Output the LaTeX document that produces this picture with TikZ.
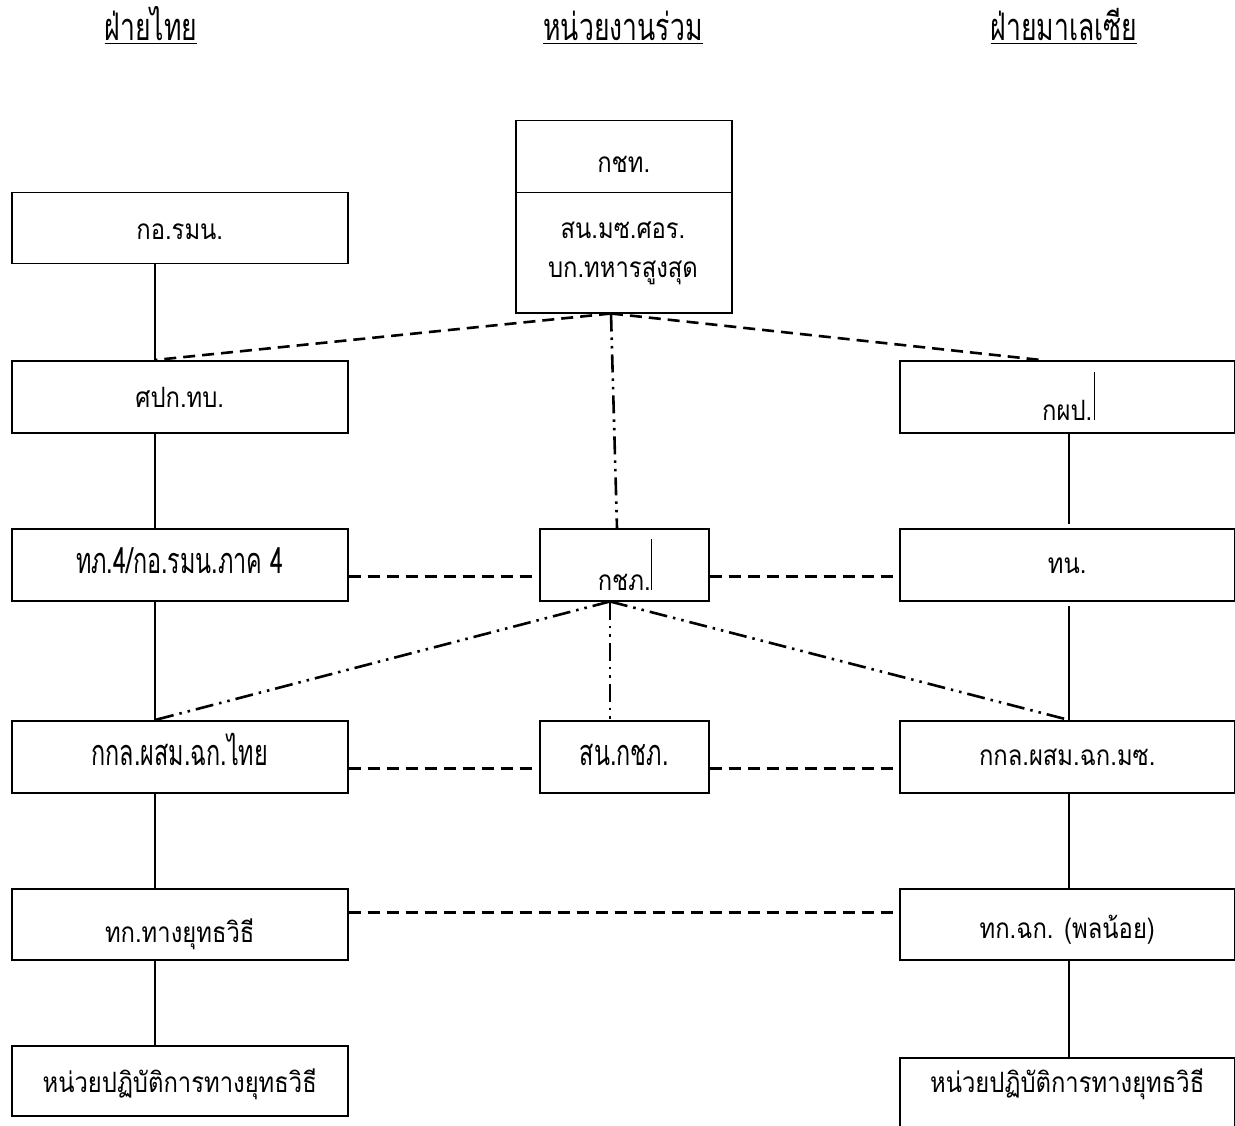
\documentclass[tikz,border=0pt]{standalone}
\usepackage{fontspec}
\newfontfamily\thaifont[Script=Thai,FakeStretch=0.85]{Loma}
\newfontfamily\thaicond[Script=Thai,FakeStretch=0.65]{Loma}
\newfontfamily\thaihdr[Script=Thai,FakeStretch=0.70]{Loma}
\usetikzlibrary{calc}
\newcommand\hdrul[1]{\setbox0\hbox{#1}\rlap{\rule[-3.5pt]{\wd0}{1.8pt}}\box0}
\begin{document}
\begin{tikzpicture}[x=1pt,y=-1pt,
  box/.style={draw, line width=1.5pt, inner sep=0pt, anchor=north west,
    font=\thaifont\fontsize{28}{34}\selectfont, text depth=0pt},
  wide/.style={box, minimum width=336pt, minimum height=72pt},
  narrow/.style={box, minimum width=169pt, minimum height=72pt},
  tb/.style={text height=#1pt, text depth=0pt},
  cond/.style={font=\thaicond\fontsize{36}{40}\selectfont},
  txt/.style={inner sep=0pt, anchor=base, font=\thaifont\fontsize{28}{34}\selectfont},
  hdr/.style={inner sep=0pt, anchor=base, font=\thaihdr\fontsize{38}{44}\selectfont},
  link/.style={line width=1.2pt},
  dsh/.style={line width=2.6pt, dash pattern=on 12pt off 7pt},
  ddot/.style={line width=2.6pt, dash pattern=on 18pt off 6pt on 2.5pt off 6pt on 2.5pt off 6pt},
  cursor/.style={line width=0.9pt}]
\useasboundingbox (0,0) rectangle (1235,1126);

% headers
\node[hdr] (h1) at (151,41) {\hdrul{ฝ่ายไทย}};
\node[hdr] (h2) at (623,41) {\hdrul{หน่วยงานร่วม}};
\node[hdr] (h3) at (1064,41) {\hdrul{ฝ่ายมาเลเซีย}};

% left column
\node[wide, minimum height=71pt, tb=23] (a1) at (11,192) {กอ.รมน.};
\node[wide, tb=22] (a2) at (11,360) {ศปก.ทบ.};
\node[wide, tb=18, cond] (a3) at (11,528) {ทภ.4/กอ.รมน.ภาค 4};
\node[wide, tb=18, cond] (a4) at (11,720) {กกล.ผสม.ฉก.ไทย};
\node[wide, minimum height=71pt, tb=36] (a5) at (11,888) {ทก.ทางยุทธวิธี};
\node[wide, minimum height=70pt, tb=23] (a6) at (11,1045) {หน่วยปฏิบัติการทางยุทธวิธี};

% centre column
\node[box, minimum width=216pt, minimum height=72pt, tb=32] (c0) at (515,120) {กชท.};
\node[box, minimum width=216pt, minimum height=120pt] (c1) at (515,192) {};
\node[txt] (c1a) at (623,239) {สน.มซ.ศอร.};
\node[txt] (c1b) at (623,278) {บก.ทหารสูงสุด};
\node[narrow, tb=52] (c2) at (539,528) {กชภ.};
\node[narrow, tb=18, cond] (c3) at (539,720) {สน.กชภ.};

% right column
\node[wide, minimum width=335pt, tb=48] (b1) at (899,360) {กผป.};
\node[wide, minimum width=335pt, tb=18] (b2) at (899,528) {ทน.};
\node[wide, minimum width=335pt, tb=18] (b3) at (899,720) {กกล.ผสม.ฉก.มซ.};
\node[wide, minimum width=335pt, minimum height=71pt, tb=29] (b4) at (899,888) {ทก.ฉก. (พลน้อย)};
\node[wide, minimum width=335pt, minimum height=75pt, text height=0pt, text depth=5.6pt] (b5) at (899,1057) {หน่วยปฏิบัติการทางยุทธวิธี};

% cursor bars
\draw[cursor] ($(b1.north west)+(195,12)$) -- ++(0,48);
\draw[cursor] ($(c2.north west)+(112,11)$) -- ++(0,51);

% guide coordinates
\coordinate (lx) at (155,0);
\coordinate (rx) at (1069,0);
\coordinate (cx) at (611,0);
\coordinate (cx2) at (617,0);
\coordinate (cx3) at (610,0);
\coordinate (rt) at (1041,0);

% solid links
\draw[link] (a1.south -| lx) -- (a2.north -| lx);
\draw[link] (a2.south -| lx) -- (a3.north -| lx);
\draw[link] (a3.south -| lx) -- (a4.north -| lx);
\draw[link] (a4.south -| lx) -- (a5.north -| lx);
\draw[link] (a5.south -| lx) -- (a6.north -| lx);
\draw[link] (b1.south -| rx) -- ($(b2.north -| rx)+(0,-4)$);
\draw[link] ($(b2.south -| rx)+(0,4)$) -- (b3.north -| rx);
\draw[link] (b3.south -| rx) -- (b4.north -| rx);
\draw[link] (b4.south -| rx) -- (b5.north -| rx);

% dashed from top box
\draw[dsh] (c1.south -| cx) -- (a2.north -| lx);
\draw[dsh] (c1.south -| cx) -- (b1.north -| rt);
\draw[ddot] (c1.south -| cx) -- (c2.north -| cx2);

% dash-dot from kachp
\draw[ddot] (c2.south -| cx3) -- (a4.north -| lx);
\draw[ddot] (c2.south -| cx3) -- (b3.north -| rx);
\draw[ddot] (c2.south -| cx3) -- (c3.north -| cx3);

% horizontal dashed
\draw[dsh] ($(a3.east)+(0,12)$) -- ($(c2.west)+(0,12)$);
\draw[dsh] ($(c2.east)+(0,12)$) -- ($(b2.west)+(0,12)$);
\draw[dsh] ($(a4.east)+(0,12)$) -- ($(c3.west)+(0,12)$);
\draw[dsh] ($(c3.east)+(0,12)$) -- ($(b3.west)+(0,12)$);
\draw[dsh] ($(a5.east)+(0,-12)$) -- ($(b4.west)+(0,-12)$);
\end{tikzpicture}
\end{document}
